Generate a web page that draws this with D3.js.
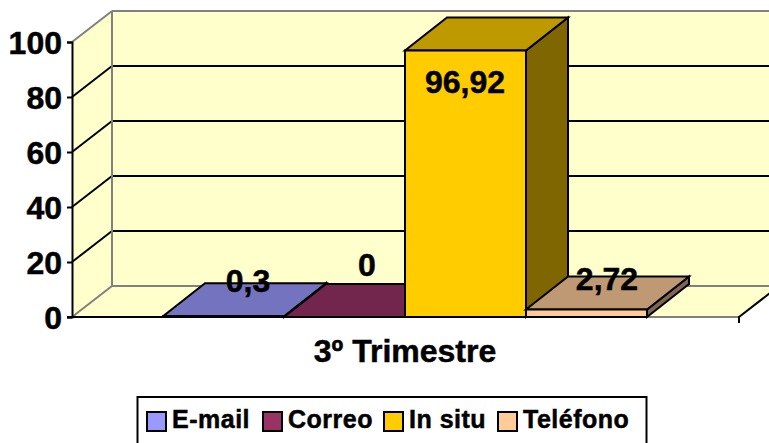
<html>
<head>
<meta charset="utf-8">
<script src="https://d3js.org/d3.v7.min.js"></script>
<style>
  body { margin: 0; background: white; overflow: hidden; }
  text { font-family: "Liberation Sans", Arial, sans-serif; font-weight: bold; fill: black; stroke: black; stroke-width: 0.5px; }
</style>
</head>
<body>
<svg></svg>
<script>
var categories = ["3º Trimestre"];
var series = ["E-mail", "Correo", "In situ", "Teléfono"];
var values = [0.3, 0, 96.92, 2.72];
var valueLabels = ["0,3", "0", "96,92", "2,72"];
var frontColors = ["#9999ff", "#993366", "#ffcc00", "#ffcc99"];
var topColors = ["#7373bf", "#73264d", "#bf9900", "#bf9973"];
var sideColors = ["#4d4d80", "#4d1a33", "#806600", "#806650"];
var yTicks = [0, 20, 40, 60, 80, 100];

var width = 769, height = 443;
var svg = d3.select("svg").attr("width", width).attr("height", height)
  .style("display", "block");

var y = d3.scaleLinear().domain([0, 100]).range([317, 42]);
var x = d3.scaleBand().domain(series).range([163, 647]);
var wall = {dx: 40, dy: -31};
var bar = {dx: 42, dy: -33};
var left = 72, right = 739;

function poly(points, fill, stroke, sw) {
  return svg.append("polygon")
    .attr("points", points.map(function(p) { return p.join(","); }).join(" "))
    .attr("fill", fill)
    .attr("stroke", stroke)
    .attr("stroke-width", sw)
    .attr("stroke-linejoin", "miter");
}
function line(x1, y1, x2, y2, color, sw) {
  svg.append("line").attr("x1", x1).attr("y1", y1).attr("x2", x2).attr("y2", y2)
    .attr("stroke", color).attr("stroke-width", sw);
}

// walls and floor
poly([[left, y(0)], [left + wall.dx, y(0) + wall.dy], [left + wall.dx, y(100) + wall.dy], [left, y(100)]], "#ffffcc", "none", 0);
poly([[left + wall.dx, y(0) + wall.dy], [left + wall.dx, y(100) + wall.dy], [width + 20, y(100) + wall.dy], [width + 20, y(0) + wall.dy]], "#ffffcc", "none", 0);
poly([[left, y(0)], [right, y(0)], [right + wall.dx, y(0) + wall.dy], [left + wall.dx, y(0) + wall.dy]], "#ffffcc", "none", 0);

// gridlines
yTicks.slice(1, -1).forEach(function(t) {
  line(left, y(t), left + wall.dx, y(t) + wall.dy, "black", 2);
  line(left + wall.dx, y(t) + wall.dy, width + 20, y(t) + wall.dy, "black", 2);
});

// wall edges
line(left, y(100), left + wall.dx, y(100) + wall.dy, "#808080", 2);
line(left + wall.dx, y(100) + wall.dy, width + 20, y(100) + wall.dy, "#808080", 2);
line(left + wall.dx, y(100) + wall.dy, left + wall.dx, y(0) + wall.dy, "#808080", 2);
line(left, y(0), left + wall.dx, y(0) + wall.dy, "#808080", 2);
line(left + wall.dx, y(0) + wall.dy, width + 20, y(0) + wall.dy, "#808080", 2);
line(left, y(0), right, y(0), "#808080", 2);

// bars
series.forEach(function(s, i) {
  var x0 = x(s), x1 = x0 + x.bandwidth(), top = y(values[i]), base = y(0);
  poly([[x1, base], [x1 + bar.dx, base + bar.dy], [x1 + bar.dx, top + bar.dy], [x1, top]], sideColors[i], "black", 2);
  poly([[x0, top], [x1, top], [x1 + bar.dx, top + bar.dy], [x0 + bar.dx, top + bar.dy]], topColors[i], "black", 2);
  poly([[x0, base], [x1, base], [x1, top], [x0, top]], frontColors[i], "black", 2);
});

// axes
line(right, y(0) - 1, right, y(0) + 6, "black", 2);
line(right, y(0), right + wall.dx, y(0) + wall.dy, "black", 2);
svg.append("g").attr("transform", "translate(" + left + ",0)")
  .call(d3.axisLeft(y).tickValues(yTicks).tickSize(5).tickFormat(d3.format("d")))
  .call(function(g) {
    g.selectAll("path,line").attr("stroke", "black").attr("stroke-width", 2);
    g.selectAll("text").attr("font-size", 32).attr("font-family", "Liberation Sans")
      .attr("x", -10).attr("dy", "0.36em").attr("fill", "black");
  });
line(left - 5, y(0), 647, y(0), "black", 2);

// value labels
var labelX = [248, 367, 465, 607];
var labelY = [292, 276, 93, 290];
valueLabels.forEach(function(t, i) {
  svg.append("text").attr("x", labelX[i]).attr("y", labelY[i])
    .attr("text-anchor", "middle").attr("font-size", 32).text(t);
});

// category
svg.append("text").attr("x", 405).attr("y", 362).attr("text-anchor", "middle")
  .attr("font-size", 32).text(categories[0]);

// legend
svg.append("rect").attr("x", 137.5).attr("y", 397).attr("width", 509).attr("height", 60)
  .attr("fill", "white").attr("stroke", "black").attr("stroke-width", 2);
var legendX = [147, 263, 384, 498];
series.forEach(function(s, i) {
  svg.append("rect").attr("x", legendX[i]).attr("y", 412).attr("width", 19).attr("height", 19)
    .attr("fill", frontColors[i]).attr("stroke", "black").attr("stroke-width", 2);
  svg.append("text").attr("x", legendX[i] + 25).attr("y", 428)
    .attr("font-size", 25).attr("letter-spacing", 0.5).text(s);
});
</script>
</body>
</html>
